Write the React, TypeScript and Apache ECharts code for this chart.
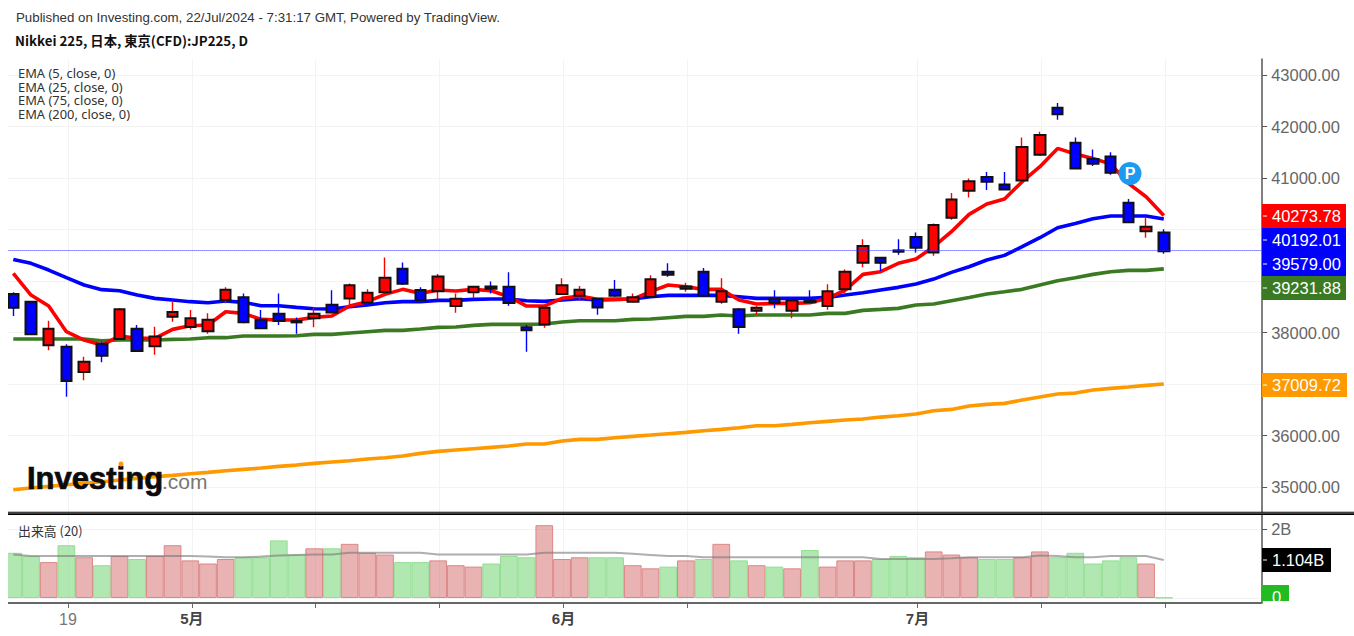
import React, { useEffect, useRef } from "react";
import * as echarts from "echarts";

const opens = [38747,38598,37751,37725,37233,37783,37874,38074,37731,38307,38107,38023,38631,38683,38249,38366,38223,38275,38540,38663,38579,38780,39239,38825,38799,38514,38780,38896,38890,38100,38158,38747,38715,38657,38831,38599,38689,39181,38851,39181,38599,38450,38424,38657,38424,38611,38514,38838,39355,39453,39595,39854,39556,40229,40753,41019,40876,40954,41452,42365,41685,41368,41420,40520,39964,39944];
const closes = [38482,37964,38074,37058,37434,37550,38450,37641,37925,38398,38275,38249,38831,38197,38081,38223,38197,38366,38391,38916,38773,39065,38948,38631,39090,38657,38890,38851,38573,38042,38482,38916,38831,38488,38715,38683,39032,39123,38896,38715,38799,38107,38482,38573,38624,38586,38799,39181,39679,39355,39569,39647,40087,40585,40935,40928,40779,41601,41834,42236,41187,41278,41103,40139,40055,39579];
const highs = [38780,38605,38230,37770,37531,37822,38469,38146,38113,38599,38437,38372,38877,38760,38437,38760,38294,38488,38819,38954,38838,39459,39362,38877,39136,38760,38890,38993,39168,38146,38482,39052,38903,38657,39019,38760,39110,39343,38967,39252,39052,38469,38514,38819,38624,38819,38935,39226,39809,39453,39809,39944,40119,40708,40993,41116,41116,41789,41899,42456,41789,41556,41498,40592,40236,40003];
const lows = [38320,37955,37654,36754,37071,37421,37870,37635,37569,38210,38061,37977,38566,38178,38068,38145,37977,38100,38372,38534,38566,38780,38948,38618,38650,38385,38676,38760,38521,37628,38094,38747,38618,38346,38715,38599,38689,39084,38793,38715,38560,37977,38346,38469,38275,38573,38443,38760,39265,39194,39511,39550,39491,40190,40624,40766,40779,40954,41452,42132,41187,41232,41064,40139,39841,39530];
const ema5 = [39149,38728,38514,38016,37854,37757,37932,37887,37887,38061,38132,38145,38404,38372,38256,38243,38243,38294,38320,38514,38599,38741,38838,38760,38825,38806,38838,38812,38696,38514,38514,38663,38709,38644,38644,38650,38793,38922,38890,38838,38838,38631,38553,38566,38566,38579,38663,38825,39129,39181,39343,39427,39666,39957,40294,40495,40592,40928,41219,41575,41465,41381,41271,40896,40637,40273.78];
const ema25 = [39420,39343,39213,39065,38922,38832,38812,38728,38663,38631,38599,38579,38611,38586,38521,38521,38488,38463,38456,38501,38534,38579,38599,38599,38624,38624,38644,38650,38650,38618,38605,38631,38657,38631,38644,38650,38696,38721,38721,38721,38721,38696,38663,38663,38663,38663,38682,38728,38773,38825,38877,38941,39038,39168,39278,39407,39498,39666,39841,40035,40119,40210,40262,40262,40262,40205];
const ema75 = [37874,37874,37874,37874,37874,37841,37854,37854,37854,37867,37874,37900,37900,37932,37932,37932,37938,37964,37964,37990,38016,38042,38042,38068,38100,38107,38139,38158,38158,38158,38165,38204,38230,38230,38230,38256,38262,38288,38314,38314,38340,38320,38340,38340,38340,38340,38372,38372,38430,38449,38469,38534,38553,38618,38682,38747,38792,38838,38922,39006,39064,39129,39181,39207,39207,39235];
const ema200 = [34948,34980,35012,35045,35070,35103,35135,35168,35200,35226,35258,35284,35316,35342,35368,35401,35426,35459,35485,35511,35543,35569,35601,35653,35692,35718,35744,35770,35796,35835,35835,35893,35925,35925,35958,35984,36009,36035,36061,36093,36119,36152,36191,36191,36217,36249,36275,36301,36320,36358,36384,36417,36481,36507,36572,36604,36624,36688,36747,36805,36824,36883,36915,36941,36973,37000];
const volumes = [1.31,1.22,1.04,1.53,1.18,0.95,1.22,1.13,1.22,1.53,1.09,1.00,1.13,1.18,1.18,1.67,1.26,1.44,1.44,1.57,1.31,1.26,1.04,1.04,1.09,0.95,0.91,1.00,1.22,1.18,2.11,1.13,1.18,1.18,1.18,0.95,0.86,0.91,1.09,1.13,1.57,1.09,0.95,0.91,0.86,1.39,0.91,1.09,1.09,1.13,1.22,1.18,1.35,1.26,1.18,1.13,1.13,1.18,1.35,1.18,1.31,1.00,1.09,1.18,1.00,0.01];
const volumeMa = [1.26,1.22,1.22,1.22,1.22,1.22,1.22,1.22,1.22,1.22,1.22,1.20,1.18,1.18,1.20,1.23,1.25,1.26,1.26,1.31,1.31,1.31,1.31,1.31,1.26,1.26,1.26,1.26,1.26,1.26,1.31,1.31,1.31,1.31,1.31,1.28,1.25,1.22,1.22,1.18,1.18,1.18,1.18,1.18,1.18,1.18,1.18,1.18,1.18,1.13,1.13,1.13,1.13,1.15,1.18,1.18,1.18,1.18,1.23,1.22,1.18,1.18,1.22,1.22,1.22,1.104];
const sessions = opens.map((_, i) => String(i));
const futureSlots = ["f1", "f2", "f3", "f4", "f5"];
const plotCategories = [...sessions, ...futureSlots];
const tickLabels: Record<number, string> = { 3: "19", 10: "5月", 17: "", 24: "", 31: "6月", 38: "", 51: "7月", 58: "", 65: "" };
const priceTicks = [35000, 36000, 37000, 38000, 39000, 40000, 41000, 42000, 43000];
const priceLabels = [35000, 36000, 38000, 41000, 42000, 43000];
const lastCloseLine = 39592;
const legendLines = ["EMA (5, close, 0)", "EMA (25, close, 0)", "EMA (75, close, 0)", "EMA (200, close, 0)"];
const flagLabels = ["40273.78", "40192.01", "39579.00", "39231.88", "37009.72"];

const SANS = '"Liberation Sans", Arial, "Noto Sans CJK JP", sans-serif';
const RED = "#ff0000";
const BLUE = "#0000ff";
const GREEN = "#3a7a22";
const ORANGE = "#ff9900";
const GRID = "#f3f3f3";
const STEP = 17.7;
const PLOT_LEFT = 4.45;
const PLOT_WIDTH = STEP * 71;

const lineSeries = (name: string, data: number[], color: string, extra: any = {}) => ({
  name, type: "line", data, xAxisIndex: 0, yAxisIndex: 0, z: 2,
  symbol: "none", smooth: false, silent: true,
  lineStyle: { color, width: 3.6, cap: "butt" },
  ...extra,
});

function flag(text: string, y: number, color: string, w = 84) {
  const top = y - 12;
  return [
    { type: "rect", z: 100, shape: { x: 1262, y: top, width: w, height: 24 }, style: { fill: color } },
    { type: "line", z: 101, shape: { x1: 1263, y1: y, x2: 1267, y2: y }, style: { stroke: "#fff", lineWidth: 1 } },
    { type: "text", z: 101, x: 1272, y, style: { text, fill: "#fff", fontSize: 16.5, fontFamily: SANS, verticalAlign: "middle", align: "left" } },
  ];
}

function txt(text: string, x: number, y: number, fontSize: number, fill: string, fontFamily: string, fontWeight = "normal", extra: any = {}) {
  return { type: "text", z: 90, x, y, style: { text, fill, fontSize, fontFamily, fontWeight, verticalAlign: "middle", align: "left", ...extra } };
}

export default function App() {
  const ref = useRef<HTMLDivElement>(null);
  useEffect(() => {
    document.body.style.margin = "0";
    const chart = echarts.init(ref.current!, undefined, { renderer: "svg" });
    const wickData = opens.map((o, i) => [o, closes[i], lows[i], highs[i]]);
    const bodyData = opens.map((o, i) => [o, closes[i], Math.min(o, closes[i]), Math.max(o, closes[i])]);
    const volData = volumes.map((v, i) => {
      const up = closes[i] > opens[i];
      return { value: v, itemStyle: up
        ? { color: "rgba(208,96,96,0.48)", borderColor: "#dc8686", borderWidth: 1 }
        : { color: "rgba(110,212,110,0.54)", borderColor: "#92de92", borderWidth: 1 } };
    });
    const graphics: any[] = [
      { type: "rect", z: 80, shape: { x: 0, y: 50, width: 8, height: 570 }, style: { fill: "#fff" } },
      { type: "rect", z: 81, shape: { x: 8, y: 511.7, width: 1346, height: 1 }, style: { fill: "#000" } },
      { type: "rect", z: 81, shape: { x: 8, y: 513.3, width: 1346, height: 1.6 }, style: { fill: "#000" } },
      txt("Published on Investing.com, 22/Jul/2024 - 7:31:17 GMT, Powered by TradingView.", 16, 17, 13.3, "#333", SANS),
      txt("Nikkei 225, 日本, 東京(CFD):JP225, D", 15, 40, 13.3, "#111", '"Noto Sans CJK JP", "Noto Sans", sans-serif', "bold"),
      ...legendLines.map((t, i) => txt(t, 18, 73 + i * 13.6, 12.9, "#333", '"Noto Sans", sans-serif')),
      txt("出来高 (20)", 18, 530, 12.9, "#333", '"Noto Sans CJK JP", "Noto Sans", sans-serif'),
      txt("Investing", 27, 478, 31, "#0b0b0b", SANS, "bold", { stroke: "#0b0b0b", lineWidth: 0.7 }),
      txt(".com", 162, 481, 21, "#777", SANS),
      { type: "circle", z: 91, shape: { cx: 121, cy: 464, r: 2.5 }, style: { fill: ORANGE } },
      { type: "circle", z: 95, shape: { cx: 1130, cy: 173.5, r: 11.5 }, style: { fill: "#1a9bf0" } },
      { type: "text", z: 96, x: 1130, y: 173.5, style: { text: "P", fill: "#fff", fontSize: 16, fontWeight: "bold", fontFamily: SANS, align: "center", verticalAlign: "middle" } },
      ...flag(flagLabels[0], 216, RED),
      ...flag(flagLabels[1], 240, BLUE),
      ...flag(flagLabels[2], 264, BLUE),
      ...flag(flagLabels[3], 288, GREEN),
      ...flag(flagLabels[4], 385, ORANGE, 85),
      ...flag("1.104B", 560, "#000", 69),
      { type: "rect", z: 100, shape: { x: 1262, y: 585, width: 27, height: 16 }, style: { fill: "#22bb22" } },
      { type: "text", z: 101, x: 1272, y: 597, style: { text: "0", fill: "#fff", fontSize: 16.5, fontFamily: SANS, verticalAlign: "middle", align: "left" } },
      { type: "rect", z: 102, shape: { x: 1263, y: 601, width: 30, height: 8 }, style: { fill: "#fff" } },
    ];
    chart.setOption({
      animation: false,
      backgroundColor: "#fff",
      textStyle: { fontFamily: SANS },
      grid: [
        { left: PLOT_LEFT, top: 59, width: PLOT_WIDTH, height: 453 },
        { left: PLOT_LEFT, top: 515, width: PLOT_WIDTH, height: 88 },
        { left: PLOT_LEFT + STEP / 2 + 1.5, top: 59, width: STEP * 65, height: 544 },
      ],
      xAxis: [
        { type: "category", gridIndex: 0, data: plotCategories, show: false },
        { type: "category", gridIndex: 1, data: plotCategories, axisTick: { show: false }, axisLabel: { show: false },
          axisLine: { show: true, onZero: false, lineStyle: { color: "#666", width: 2 } }, splitLine: { show: false } },
        { type: "category", gridIndex: 2, data: sessions, boundaryGap: false, axisLine: { show: false },
          axisTick: { show: true, length: 5, interval: (i: number) => i in tickLabels, lineStyle: { color: "#666" } },
          splitLine: { show: true, interval: (i: number) => i in tickLabels, lineStyle: { color: GRID, width: 1 } },
          axisLabel: { show: true, interval: (i: number) => i in tickLabels, margin: 8,
            formatter: (_v: string, i: number) => {
              const t = tickLabels[i] || "";
              if (!t) return "";
              return t.includes("月") ? `{m|${t}}` : `{d|${t}}`;
            },
            rich: {
              d: { fontSize: 16, color: "#777", fontFamily: SANS },
              m: { fontSize: 15, color: "#444", fontWeight: "bold", fontFamily: SANS },
            } } },
      ],
      yAxis: [
        { type: "value", gridIndex: 0, position: "right", offset: 1, min: 34515, max: 43311, scale: true,
          axisLine: { show: true, lineStyle: { color: "#555", width: 1.5 } },
          axisTick: { show: true, length: 5, customValues: priceTicks, lineStyle: { color: "#555" } },
          axisLabel: { show: true, margin: 9, customValues: priceLabels, fontSize: 16.5, color: "#666", fontFamily: SANS,
            padding: [2, 0, 0, 0], formatter: (v: number) => v.toFixed(2) },
          splitLine: { show: true, lineStyle: { color: GRID, width: 1 } } },
        { type: "value", gridIndex: 1, position: "right", offset: 1, min: -0.145, max: 2.406,
          axisLine: { show: true, lineStyle: { color: "#555", width: 1.5 } },
          axisTick: { show: true, length: 5, customValues: [0, 2], lineStyle: { color: "#555" } },
          axisLabel: { show: true, margin: 9, customValues: [2], fontSize: 16.5, color: "#666", fontFamily: SANS,
            formatter: (v: number) => `${v}B` },
          splitLine: { show: true, lineStyle: { color: GRID, width: 1 } } },
        { type: "value", gridIndex: 2, show: false, min: 0, max: 1, splitLine: { show: false } },
      ],
      series: [
        lineSeries("EMA 200", ema200, ORANGE),
        lineSeries("EMA 75", ema75, GREEN),
        lineSeries("EMA 25", ema25, BLUE, {
          markLine: { silent: true, symbol: "none", label: { show: false },
            lineStyle: { color: "#2a2aff", type: [1, 1], width: 1, opacity: 1 },
            data: [{ yAxis: lastCloseLine, lineStyle: { color: "#2a2aff", type: [1, 1], width: 1 } }] } }),
        lineSeries("EMA 5", ema5, RED),
        { name: "wick", type: "candlestick", xAxisIndex: 0, yAxisIndex: 0, z: 3, barWidth: 2, data: wickData, silent: true,
          itemStyle: { color: RED, color0: BLUE, borderColor: RED, borderColor0: BLUE, borderWidth: 1.4 } },
        { name: "body", type: "candlestick", xAxisIndex: 0, yAxisIndex: 0, z: 4, barWidth: 11, data: bodyData, silent: true,
          itemStyle: { color: RED, color0: BLUE, borderColor: "#111", borderColor0: "#111", borderWidth: 2 } },
        { name: "出来高", type: "bar", xAxisIndex: 1, yAxisIndex: 1, barWidth: STEP, data: volData, silent: true, z: 2 },
        { name: "出来高 MA", type: "line", xAxisIndex: 1, yAxisIndex: 1, data: volumeMa, symbol: "none", silent: true, z: 3,
          lineStyle: { color: "rgba(120,120,120,0.6)", width: 2 } },
      ],
      graphic: { elements: graphics },
    });
    return () => chart.dispose();
  }, []);
  return <div ref={ref} style={{ position: "fixed", left: 0, top: 0, width: 1354, height: 636 }} />;
}
